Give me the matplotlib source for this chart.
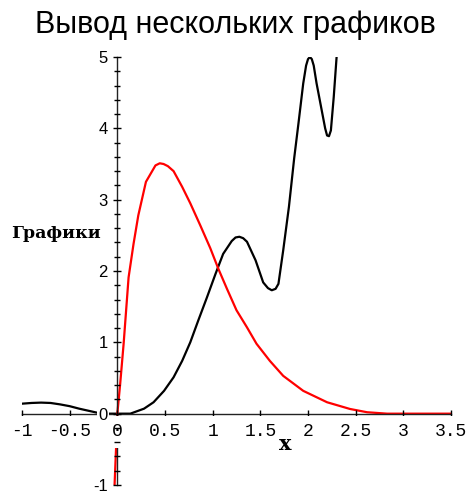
import matplotlib.pyplot as plt
import numpy as np

# data
black_x = [-1.0, -0.9, -0.8, -0.7, -0.6, -0.5, -0.4, -0.3, -0.2, -0.1, 0.0,
           0.136, 0.28, 0.38, 0.49, 0.59, 0.68, 0.765, 0.85, 0.94, 1.03, 1.11,
           1.20, 1.24, 1.28, 1.32, 1.36, 1.45, 1.53, 1.58, 1.62, 1.66, 1.69,
           1.74, 1.80, 1.855, 1.90, 1.95, 1.98, 2.00, 2.02, 2.04, 2.06, 2.09,
           2.15, 2.18, 2.20, 2.22, 2.24, 2.27, 2.30, 2.33]
black_y = [0.14, 0.15, 0.155, 0.15, 0.13, 0.105, 0.07, 0.04, 0.01, 0.0, 0.0,
           0.0, 0.07, 0.16, 0.32, 0.51, 0.74, 1.0, 1.31, 1.63, 1.96, 2.24,
           2.42, 2.47, 2.48, 2.46, 2.41, 2.15, 1.84, 1.76, 1.73, 1.75, 1.82,
           2.29, 2.90, 3.58, 4.07, 4.63, 4.88, 4.97, 5.0, 4.97, 4.88, 4.63,
           4.21, 4.00, 3.90, 3.89, 3.97, 4.44, 5.0, 5.5]

red_x = [-0.035, -0.02, -0.01, 0.0, 0.03, 0.066, 0.118, 0.17, 0.22, 0.30, 0.40,
         0.445, 0.485, 0.53, 0.59, 0.68, 0.765, 0.87, 0.975, 1.06, 1.15, 1.25,
         1.36, 1.46, 1.60, 1.74, 1.95, 2.20, 2.44, 2.62, 2.83, 3.0, 3.25, 3.5]
red_y = [-1.2, -0.7, -0.38, 0.0, 0.42, 0.98, 1.91, 2.38, 2.78, 3.25, 3.48,
         3.51, 3.50, 3.47, 3.40, 3.18, 2.95, 2.64, 2.32, 2.03, 1.75, 1.45,
         1.21, 0.98, 0.74, 0.53, 0.32, 0.16, 0.066, 0.02, 0.0, 0.0, 0.0, 0.0]

x_ticks = [-1, -0.5, 0, 0.5, 1, 1.5, 2, 2.5, 3, 3.5]
x_tick_labels = ["-1", "-0.5", "0", "0.5", "1", "1.5", "2", "2.5", "3", "3.5"]
y_ticks = [-1, 0, 1, 2, 3, 4, 5]
y_tick_labels = ["-1", "0", "1", "2", "3", "4", "5"]

mono = ["Liberation Mono", "DejaVu Sans Mono"]
slab = ["DejaVu Serif", "Liberation Serif"]  # closest thing to Courier bold

fig = plt.figure(figsize=(4.70, 4.93), dpi=100)
ax = fig.add_axes([22/470, 1 - 485/493, (451 - 22)/470, (485 - 57)/493])
ax.set_axisbelow(False)  # tick labels over the curves

ax.plot(black_x, black_y, color="black", lw=1.6)
ax.plot(red_x, red_y, color="#ff0000", lw=1.6)

ax.set_xlim(-1, 3.5)
ax.set_ylim(-1, 5)

# axes through the origin
ax.spines["left"].set_position(("data", 0))
ax.spines["bottom"].set_position(("data", 0))
ax.spines["top"].set_visible(False)
ax.spines["right"].set_visible(False)
for s in ("left", "bottom"):
    ax.spines[s].set_linewidth(1.0)
    ax.spines[s].set_color("#222222")

ax.set_xticks(x_ticks)
ax.set_xticklabels(x_tick_labels, family=mono, fontsize=13)
ax.set_yticks(y_ticks)
ax.set_yticklabels(y_tick_labels, family="Liberation Sans", fontsize=12)
ax.set_yticks(np.arange(-1, 5.01, 0.2), minor=True)
ax.tick_params(axis="both", which="major", direction="inout", length=6, width=1, pad=4)
ax.tick_params(axis="y", which="minor", direction="inout", length=5, width=1)

# white boxes behind tick labels, like Maple
for lab in ax.get_xticklabels():
    lab.set_bbox(dict(facecolor="white", edgecolor="none", boxstyle="square,pad=0.4"))
for lab in ax.get_yticklabels():
    lab.set_bbox(dict(facecolor="white", edgecolor="none", boxstyle="square,pad=0.1"))

ax.text(1.76, -0.42, "x", family=slab, fontweight="bold",
        fontsize=15, ha="center", va="center")
ax.text(-0.64, 2.53, "Графики", family=slab, fontweight="bold",
        fontsize=12.5, ha="center", va="center")

fig.text(0.5, 1 - 25/493, "Вывод нескольких графиков", family="Liberation Sans",
         fontsize=22, ha="center", va="center")

fig.savefig("out.png", dpi=100)
